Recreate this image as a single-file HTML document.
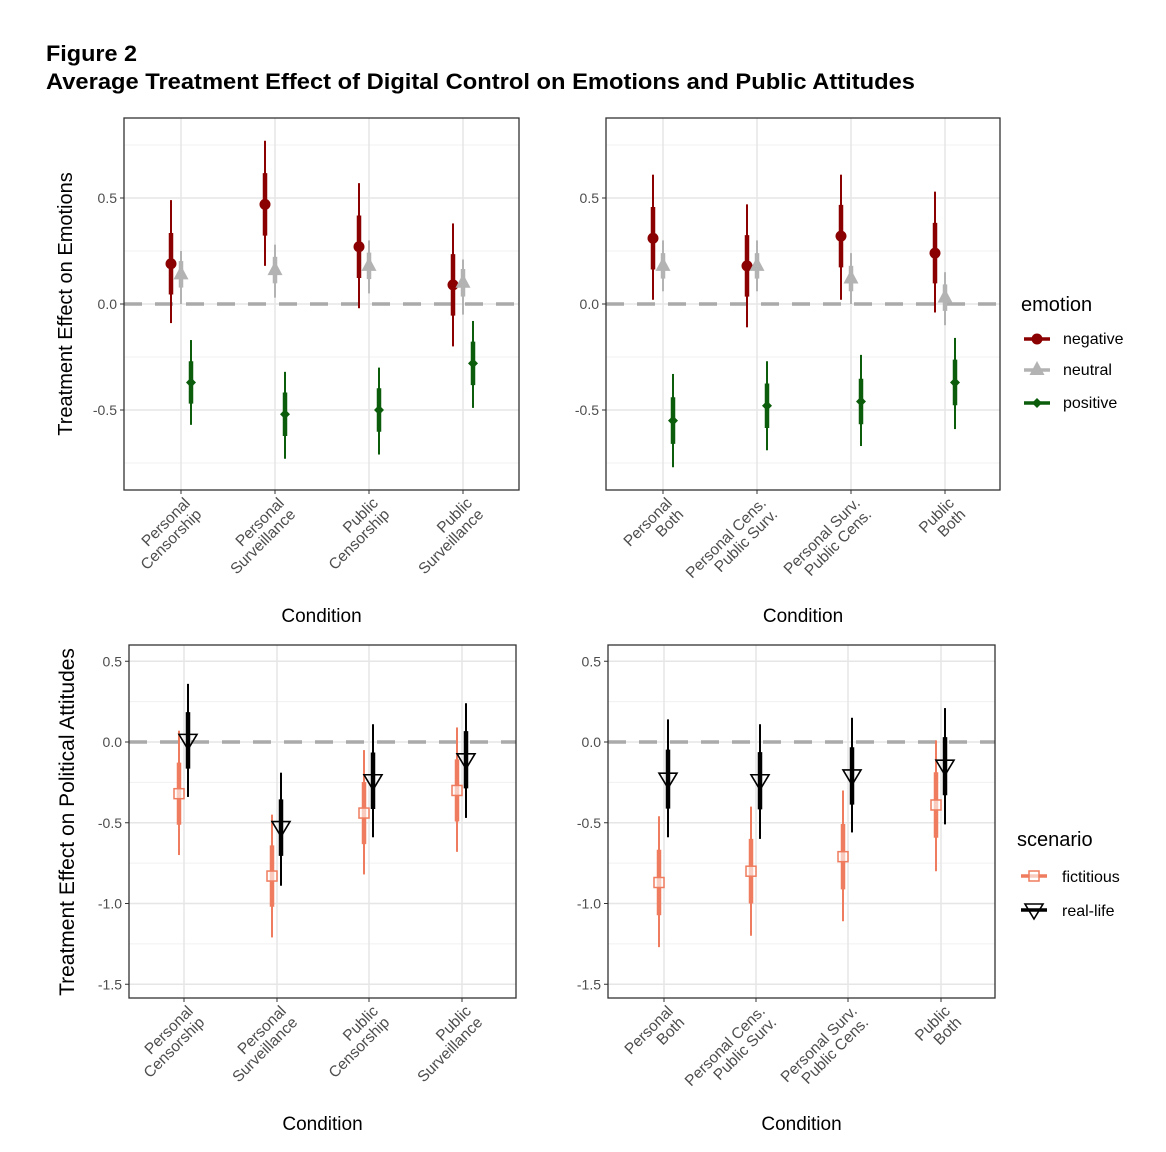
<!DOCTYPE html>
<html><head><meta charset="utf-8"><style>
body{margin:0;background:#fff;}
svg{display:block;font-family:"Liberation Sans",Arial,sans-serif;}
</style></head><body>
<svg id="s" width="1166" height="1152" xmlns="http://www.w3.org/2000/svg">
<text x="46" y="61" font-size="22" font-weight="bold" textLength="91" lengthAdjust="spacingAndGlyphs">Figure 2</text>
<text x="46" y="89" font-size="22" font-weight="bold" textLength="869" lengthAdjust="spacingAndGlyphs">Average Treatment Effect of Digital Control on Emotions and Public Attitudes</text>
</svg>
<script>
const S=document.getElementById('s');let h='';
function panel(o){
 const {x0,x1,y0,y1,zeroY,scale,ticks,minor,cats,labels,series,off,ylab,ytitle,yfs}=o;
 const Y=v=>zeroY-v*scale;
 h+=`<rect x="${x0}" y="${y0}" width="${x1-x0}" height="${y1-y0}" fill="#fff"/>`;
 minor.forEach(v=>h+=`<line x1="${x0}" x2="${x1}" y1="${Y(v)}" y2="${Y(v)}" stroke="#f0f0f0" stroke-width="1"/>`);
 ticks.forEach(v=>h+=`<line x1="${x0}" x2="${x1}" y1="${Y(v)}" y2="${Y(v)}" stroke="#e6e6e6" stroke-width="1.5"/>`);
 cats.forEach(c=>h+=`<line x1="${c}" x2="${c}" y1="${y0}" y2="${y1}" stroke="#e6e6e6" stroke-width="1.5"/>`);
 h+=`<line x1="${x0}" x2="${x1}" y1="${zeroY}" y2="${zeroY}" stroke="#aaa" stroke-width="3.5" stroke-dasharray="18,13"/>`;
 series.forEach((s,si)=>{
  s.d.forEach((d,i)=>{
   const x=cats[i]+off[si];const [m,lo,hi]=d;const r=(hi-lo)/4;
   h+=`<line x1="${x}" x2="${x}" y1="${Y(hi)}" y2="${Y(lo)}" stroke="${s.c}" stroke-width="2"/>`;
   h+=`<line x1="${x}" x2="${x}" y1="${Y(m+r)}" y2="${Y(m-r)}" stroke="${s.c}" stroke-width="4.5"/>`;
   h+=shape(s.sh,x,Y(m),s.c);
  });
 });
 h+=`<rect x="${x0}" y="${y0}" width="${x1-x0}" height="${y1-y0}" fill="none" stroke="#333" stroke-width="1.3"/>`;
 ticks.forEach(v=>{h+=`<line x1="${x0-4}" x2="${x0}" y1="${Y(v)}" y2="${Y(v)}" stroke="#333"/>`;
  h+=`<text x="${x0-7}" y="${Y(v)+5}" font-size="14" fill="#4d4d4d" text-anchor="end">${v.toFixed(1)}</text>`;});
 cats.forEach((c,i)=>{h+=`<line x1="${c}" x2="${c}" y1="${y1}" y2="${y1+4}" stroke="#333"/>`;
  const ax=c+10,ay=y1+14;
  h+=`<g transform="translate(${ax},${ay}) rotate(-45)"><text font-size="15.5" fill="#4d4d4d" text-anchor="end"><tspan x="0" y="0">${labels[i][0]}</tspan><tspan x="0" y="16">${labels[i][1]}</tspan></text></g>`;});
 h+=`<text x="${(x0+x1)/2}" y="${y1+132}" font-size="19" text-anchor="middle">Condition</text>`;
 if(ytitle) h+=`<text transform="translate(${ytitle[0]},${ytitle[1]}) rotate(-90)" font-size="${yfs}" text-anchor="middle">${ylab}</text>`;
}
function shape(sh,x,y,c){
 if(sh=='circle')return `<circle cx="${x}" cy="${y}" r="5.5" fill="${c}"/>`;
 if(sh=='tri')return `<polygon points="${x},${y-9} ${x-7.5},${y+5} ${x+7.5},${y+5}" fill="${c}"/>`;
 if(sh=='dia')return `<polygon points="${x},${y-5} ${x-5},${y} ${x},${y+5} ${x+5},${y}" fill="${c}"/>`;
 if(sh=='sq')return `<rect x="${x-5}" y="${y-5}" width="10" height="10" fill="#fff" fill-opacity="0.6" stroke="${c}" stroke-width="1.5"/>`;
 if(sh=='dtri')return `<polygon points="${x-9},${y-6} ${x+9},${y-6} ${x},${y+9}" fill="none" stroke="${c}" stroke-width="1.6"/>`;
}
const NEG='#8b0000',NEU='#b3b3b3',POS='#0b5d0b',FIC='#ef7c5e',REAL='#000';
const L1=[['Personal','Censorship'],['Personal','Surveillance'],['Public','Censorship'],['Public','Surveillance']];
const L2=[['Personal','Both'],['Personal Cens.','Public Surv.'],['Personal Surv.','Public Cens.'],['Public','Both']];
const tt={zeroY:304,scale:212,ticks:[0.5,0,-0.5],minor:[0.75,0.25,-0.25,-0.75],off:[-10,0,10],ylab:'Treatment Effect on Emotions',yfs:20};
panel(Object.assign({},tt,{x0:124,x1:519,y0:118,y1:490,cats:[181,275,369,463],labels:L1,ytitle:[72,304],
 series:[{c:NEG,sh:'circle',d:[[0.19,-0.09,0.49],[0.47,0.18,0.77],[0.27,-0.02,0.57],[0.09,-0.2,0.38]]},
 {c:NEU,sh:'tri',d:[[0.14,0,0.25],[0.16,0.03,0.28],[0.18,0.05,0.3],[0.1,-0.05,0.21]]},
 {c:POS,sh:'dia',d:[[-0.37,-0.57,-0.17],[-0.52,-0.73,-0.32],[-0.5,-0.71,-0.3],[-0.28,-0.49,-0.08]]}]}));
panel(Object.assign({},tt,{x0:606,x1:1000,y0:118,y1:490,cats:[663,757,851,945],labels:L2,
 series:[{c:NEG,sh:'circle',d:[[0.31,0.02,0.61],[0.18,-0.11,0.47],[0.32,0.02,0.61],[0.24,-0.04,0.53]]},
 {c:NEU,sh:'tri',d:[[0.18,0.06,0.3],[0.18,0.06,0.3],[0.12,0,0.24],[0.03,-0.1,0.15]]},
 {c:POS,sh:'dia',d:[[-0.55,-0.77,-0.33],[-0.48,-0.69,-0.27],[-0.46,-0.67,-0.24],[-0.37,-0.59,-0.16]]}]}));
const bb={zeroY:742,scale:161.5,ticks:[0.5,0,-0.5,-1.0,-1.5],minor:[0.25,-0.25,-0.75,-1.25],off:[-5,4],ylab:'Treatment Effect on Political Attitudes',yfs:21};
panel(Object.assign({},bb,{x0:129,x1:516,y0:645,y1:998,cats:[184,277,369,462],labels:L1,ytitle:[74,822],
 series:[{c:FIC,sh:'sq',d:[[-0.32,-0.7,0.07],[-0.83,-1.21,-0.45],[-0.44,-0.82,-0.05],[-0.3,-0.68,0.09]]},
 {c:REAL,sh:'dtri',d:[[0.01,-0.34,0.36],[-0.53,-0.89,-0.19],[-0.24,-0.59,0.11],[-0.11,-0.47,0.24]]}]}));
panel(Object.assign({},bb,{x0:608,x1:995,y0:645,y1:998,cats:[664,756,848,941],labels:L2,
 series:[{c:FIC,sh:'sq',d:[[-0.87,-1.27,-0.46],[-0.8,-1.2,-0.4],[-0.71,-1.11,-0.3],[-0.39,-0.8,0.01]]},
 {c:REAL,sh:'dtri',d:[[-0.23,-0.59,0.14],[-0.24,-0.6,0.11],[-0.21,-0.56,0.15],[-0.15,-0.51,0.21]]}]}));
h+=`<text x="1021" y="311" font-size="20">emotion</text>`;
[['negative',NEG,'circle',339],['neutral',NEU,'tri',370],['positive',POS,'dia',403]].forEach(a=>{
 h+=`<line x1="1024" x2="1050" y1="${a[3]}" y2="${a[3]}" stroke="${a[1]}" stroke-width="3.5"/>`+shape(a[2],1037,a[3],a[1]);
 h+=`<text x="1063" y="${a[3]+5}" font-size="16">${a[0]}</text>`;});
h+=`<text x="1017" y="846" font-size="20">scenario</text>`;
[['fictitious',FIC,'sq',876],['real-life',REAL,'dtri',910]].forEach(a=>{
 h+=`<line x1="1021" x2="1047" y1="${a[3]}" y2="${a[3]}" stroke="${a[1]}" stroke-width="3.5"/>`+shape(a[2],1034,a[3],a[1]);
 h+=`<text x="1062" y="${a[3]+6}" font-size="16">${a[0]}</text>`;});
S.insertAdjacentHTML('beforeend',h);
</script>
</body></html>
